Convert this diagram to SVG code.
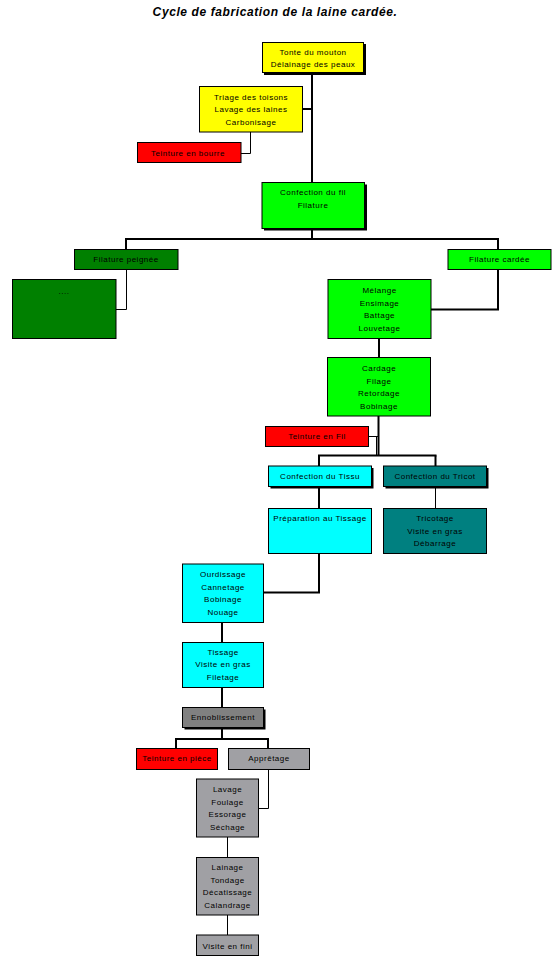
<svg xmlns="http://www.w3.org/2000/svg" width="552" height="957" viewBox="0 0 552 957">
<style>
.b{stroke:#000;stroke-width:1}
.sh{fill:#000}
.t{font-family:"Liberation Sans",Arial,sans-serif;font-size:8px;letter-spacing:0.5px;fill:#000;text-anchor:middle}
.title{font-family:"Liberation Sans",Arial,sans-serif;font-size:12px;font-weight:bold;font-style:italic;letter-spacing:0.6px;fill:#000;text-anchor:middle}
.thick{fill:none;stroke:#000;stroke-width:2}
.thin{fill:none;stroke:#000;stroke-width:1}
.y{fill:#ffff00}.r{fill:#ff0000}.g{fill:#00ff00}.dg{fill:#008000}.c{fill:#00ffff}.tl{fill:#008080}.dgy{fill:#808080}.lgy{fill:#a0a0a4}
</style>
<rect width="552" height="957" fill="#fff"/>
<text class="title" x="275" y="16">Cycle de fabrication de la laine cardée.</text>
<g id="connectors">
<path class="thick" d="M312,73 V183"/>
<path class="thick" d="M303,109 H312"/>
<path class="thin" d="M250.5,132 V153.5 H241"/>
<path class="thick" d="M312,228.5 V239"/>
<path class="thick" d="M125,239 H499"/>
<path class="thick" d="M126,239 V249.5"/>
<path class="thick" d="M498,239 V249.5"/>
<path class="thin" d="M126.5,269.5 V309.5 H116"/>
<path class="thick" d="M498,269.5 V309.5 H431"/>
<path class="thick" d="M379,338.5 V357.5"/>
<path class="thick" d="M378.5,416 V456"/>
<path class="thin" d="M368.5,436.5 H378 M376.5,436.5 V455"/>
<path class="thick" d="M318,455.5 H436.5"/>
<path class="thick" d="M319,455.5 V466"/>
<path class="thick" d="M435.5,455.5 V466"/>
<path class="thick" d="M319,486.5 V508.5"/>
<path class="thin" d="M435.5,486.5 V508.5"/>
<path class="thick" d="M319,553.5 V592.5 H263.5"/>
<path class="thick" d="M222,622.5 V642.5"/>
<path class="thick" d="M222,687.5 V707.5"/>
<path class="thick" d="M222,727.5 V739"/>
<path class="thick" d="M175,739 H269"/>
<path class="thick" d="M176,739 V748.5"/>
<path class="thick" d="M268,739 V748.5"/>
<path class="thin" d="M268.5,769.5 V808.5 H258.5"/>
<path class="thin" d="M227.5,837 V857.5"/>
<path class="thin" d="M227.5,915 V935"/>
</g>
<g id="tonte">
<rect class="sh" x="264" y="44" width="102" height="31"/>
<rect class="b y" x="262.5" y="42.5" width="101" height="30"/>
<text class="t" x="313" y="54.5">Tonte du mouton</text>
<text class="t" x="313" y="67">Délainage des peaux</text>
</g>
<g id="triage">
<rect class="b y" x="199.5" y="86.5" width="103" height="45.5"/>
<text class="t" x="251" y="99.5">Triage des toisons</text>
<text class="t" x="251" y="112">Lavage des laines</text>
<text class="t" x="251" y="125">Carbonisage</text>
</g>
<g id="teinture-bourre">
<rect class="b r" x="137.5" y="142.5" width="103.5" height="20"/>
<text class="t" x="188" y="155.5">Teinture en bourre</text>
</g>
<g id="confection-fil">
<rect class="sh" x="264" y="184.5" width="103" height="46"/>
<rect class="b g" x="262" y="182.5" width="102.5" height="46"/>
<text class="t" x="313" y="195">Confection du fil</text>
<text class="t" x="313" y="208">Filature</text>
</g>
<g id="filature-peignee">
<rect class="b dg" x="74.5" y="249.5" width="103.5" height="20"/>
<text class="t" x="126" y="262">Filature peignée</text>
</g>
<g id="peignee-detail">
<rect class="b dg" x="12.5" y="279.5" width="103.5" height="59"/>
<text class="t" x="64" y="293.5">....</text>
</g>
<g id="filature-cardee">
<rect class="b g" x="448" y="249.5" width="103" height="20"/>
<text class="t" x="499.5" y="262">Filature cardée</text>
</g>
<g id="melange">
<rect class="b g" x="328" y="279.5" width="103" height="59"/>
<text class="t" x="379.5" y="293">Mélange</text>
<text class="t" x="379.5" y="305.5">Ensimage</text>
<text class="t" x="379.5" y="318">Battage</text>
<text class="t" x="379.5" y="331">Louvetage</text>
</g>
<g id="cardage">
<rect class="b g" x="327.5" y="357.5" width="103" height="58.5"/>
<text class="t" x="379" y="371">Cardage</text>
<text class="t" x="379" y="383.5">Filage</text>
<text class="t" x="379" y="396">Retordage</text>
<text class="t" x="379" y="409">Bobinage</text>
</g>
<g id="teinture-fil">
<rect class="b r" x="265.5" y="426.5" width="103" height="20"/>
<text class="t" x="317" y="439">Teinture en Fil</text>
</g>
<g id="confection-tissu">
<rect class="sh" x="270.5" y="468" width="103" height="20.5"/>
<rect class="b c" x="268.5" y="466" width="103" height="20.5"/>
<text class="t" x="320" y="479">Confection du Tissu</text>
</g>
<g id="confection-tricot">
<rect class="sh" x="385.5" y="468" width="103" height="20.5"/>
<rect class="b tl" x="383.5" y="466" width="103" height="20.5"/>
<text class="t" x="435" y="479">Confection du Tricot</text>
</g>
<g id="preparation">
<rect class="b c" x="268.5" y="508.5" width="103" height="45"/>
<text class="t" x="320" y="521">Préparation au Tissage</text>
</g>
<g id="tricotage">
<rect class="b tl" x="383.5" y="508.5" width="103" height="45"/>
<text class="t" x="435" y="521">Tricotage</text>
<text class="t" x="435" y="533.5">Visite en gras</text>
<text class="t" x="435" y="546">Débarrage</text>
</g>
<g id="ourdissage">
<rect class="b c" x="182.5" y="564" width="81" height="58.5"/>
<text class="t" x="223" y="577">Ourdissage</text>
<text class="t" x="223" y="589.5">Cannetage</text>
<text class="t" x="223" y="602">Bobinage</text>
<text class="t" x="223" y="615">Nouage</text>
</g>
<g id="tissage">
<rect class="b c" x="182.5" y="642.5" width="81" height="45"/>
<text class="t" x="223" y="655">Tissage</text>
<text class="t" x="223" y="667">Visite en gras</text>
<text class="t" x="223" y="680">Filetage</text>
</g>
<g id="ennoblissement">
<rect class="sh" x="184.5" y="709.5" width="81" height="20"/>
<rect class="b dgy" x="182.5" y="707.5" width="81" height="20"/>
<text class="t" x="223" y="720">Ennoblissement</text>
</g>
<g id="teinture-piece">
<rect class="b r" x="136.5" y="748.5" width="81" height="21"/>
<text class="t" x="177" y="761">Teinture en pièce</text>
</g>
<g id="appretage">
<rect class="b lgy" x="228.5" y="748.5" width="81" height="21"/>
<text class="t" x="269" y="761">Apprêtage</text>
</g>
<g id="lavage">
<rect class="b lgy" x="196.5" y="779" width="62" height="58"/>
<text class="t" x="227.5" y="792">Lavage</text>
<text class="t" x="227.5" y="805">Foulage</text>
<text class="t" x="227.5" y="817">Essorage</text>
<text class="t" x="227.5" y="830">Séchage</text>
</g>
<g id="lainage">
<rect class="b lgy" x="196.5" y="857.5" width="62" height="57.5"/>
<text class="t" x="227.5" y="870">Lainage</text>
<text class="t" x="227.5" y="883">Tondage</text>
<text class="t" x="227.5" y="895">Décatissage</text>
<text class="t" x="227.5" y="908">Calandrage</text>
</g>
<g id="visite-fini">
<rect class="b lgy" x="196.5" y="935" width="62" height="20.5"/>
<text class="t" x="227.5" y="948.5">Visite en fini</text>
</g>
</svg>
